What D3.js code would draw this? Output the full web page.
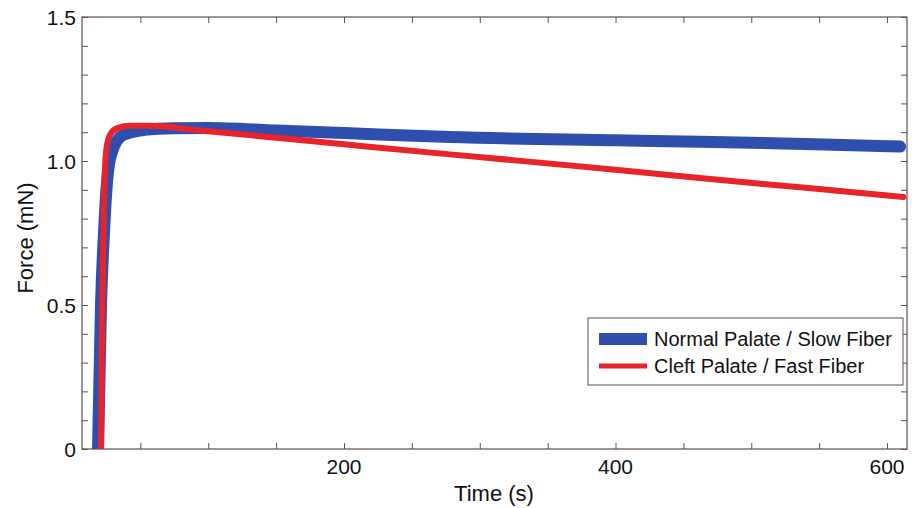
<!DOCTYPE html>
<html>
<head>
<meta charset="utf-8">
<script src="https://cdn.jsdelivr.net/npm/d3@7"></script>
<style>
  body { margin: 0; background: #fff; }
  svg text { font-family: "Liberation Sans", Arial, sans-serif; fill: #111; }
</style>
</head>
<body>
<div id="chart"></div>
<script>
'use strict';

// normal palate / slow fiber
var blueTime  = [18.8, 21, 23.2, 25, 26.9, 29, 32, 35, 42, 53, 75, 100, 150, 200, 278, 400, 462, 540, 609.6];
var blueForce = [0, 0.5, 0.75, 0.9, 0.99, 1.03, 1.065, 1.083, 1.098, 1.108, 1.114, 1.115, 1.106, 1.097, 1.083, 1.072, 1.067, 1.059, 1.050];

// cleft palate / fast fiber
var redTime  = [21, 22, 23.9, 25.4, 28.4, 33.5, 42, 57, 94, 200, 278, 400, 462, 540, 612];
var redForce = [0, 0.5, 0.97, 1.056, 1.097, 1.115, 1.122, 1.122, 1.106, 1.058, 1.023, 0.97, 0.941, 0.907, 0.875];

var xTicks = [50, 100, 150, 200, 250, 300, 350, 400, 450, 500, 550, 600];
var xLabels = [200, 400, 600];
var yTicks = [0, 0.1, 0.2, 0.3, 0.4, 0.5, 0.6, 0.7, 0.8, 0.9, 1.0, 1.1, 1.2, 1.3, 1.4, 1.5];
var yLabels = ['0', '0.5', '1.0', '1.5'];

var legendNames = ['Normal Palate / Slow Fiber', 'Cleft Palate / Fast Fiber'];
var colors = ['#2f4fae', '#e8242a'];

var W = 912, H = 508;
var pLeft = 82, pRight = 907, pTop = 17, pBottom = 449;

var x = d3.scaleLinear().domain([7, 614.7]).range([pLeft, pRight]);
var y = d3.scaleLinear().domain([0, 1.5]).range([pBottom, pTop]);

var svg = d3.select('#chart').append('svg')
    .attr('width', W)
    .attr('height', H);

svg.append('defs').append('clipPath').attr('id', 'plot')
    .append('rect')
    .attr('x', pLeft).attr('y', pTop)
    .attr('width', pRight - pLeft).attr('height', pBottom - pTop);

var frameColor = '#5e4f4c';

// ticks, inward on all four sides
function tickAxis(axis, tx, ty) {
    var g = svg.append('g')
        .attr('transform', 'translate(' + tx + ',' + ty + ')')
        .call(axis);
    g.select('.domain').remove();
    g.selectAll('line').attr('stroke', frameColor).attr('stroke-width', 1);
    g.selectAll('text').remove();
    return g;
}

tickAxis(d3.axisBottom(x).tickValues(xTicks).tickSize(-6), 0, pBottom);
tickAxis(d3.axisTop(x).tickValues(xTicks).tickSize(-6), 0, pTop);
tickAxis(d3.axisLeft(y).tickValues(yTicks).tickSize(-6), pLeft, 0);
tickAxis(d3.axisRight(y).tickValues(yTicks).tickSize(-6), pRight, 0);

svg.append('rect')
    .attr('x', pLeft).attr('y', pTop)
    .attr('width', pRight - pLeft).attr('height', pBottom - pTop)
    .attr('fill', 'none')
    .attr('stroke', frameColor)
    .attr('stroke-width', 1.2);

// tick labels
svg.append('g').selectAll('text')
    .data(xLabels)
    .enter()
    .append('text')
    .attr('x', function (d) { return x(d); })
    .attr('y', 474)
    .attr('text-anchor', 'middle')
    .style('font-size', '21px')
    .text(function (d) { return d; });

svg.append('g').selectAll('text')
    .data(yLabels)
    .enter()
    .append('text')
    .attr('x', 76)
    .attr('y', function (d) { return y(+d) + 8; })
    .attr('text-anchor', 'end')
    .style('font-size', '21px')
    .text(function (d) { return d; });

// axis titles
svg.append('text')
    .attr('x', 494)
    .attr('y', 501)
    .attr('text-anchor', 'middle')
    .style('font-size', '22px')
    .text('Time (s)');

svg.append('text')
    .attr('transform', 'translate(33,238) rotate(-90)')
    .attr('text-anchor', 'middle')
    .style('font-size', '22px')
    .text('Force (mN)');

// curves
var line = d3.line()
    .x(function (d) { return x(d[0]); })
    .y(function (d) { return y(d[1]); })
    .curve(d3.curveMonotoneX);

var plot = svg.append('g').attr('clip-path', 'url(#plot)');

plot.append('path')
    .datum(d3.zip(blueTime, blueForce))
    .attr('d', line)
    .attr('fill', 'none')
    .attr('stroke', colors[0])
    .attr('stroke-width', 12)
    .attr('stroke-linecap', 'round')
    .attr('stroke-linejoin', 'round');

plot.append('path')
    .datum(d3.zip(redTime, redForce))
    .attr('d', line)
    .attr('fill', 'none')
    .attr('stroke', colors[1])
    .attr('stroke-width', 6)
    .attr('stroke-linecap', 'round')
    .attr('stroke-linejoin', 'round');

// legend
var lg = svg.append('g');
lg.append('rect')
    .attr('x', 588).attr('y', 318)
    .attr('width', 315).attr('height', 67)
    .attr('fill', '#fff')
    .attr('stroke', frameColor)
    .attr('stroke-width', 1);

var widths = [12, 5];
legendNames.forEach(function (name, i) {
    var ly = 339 + i * 27;
    lg.append('line')
        .attr('x1', 599).attr('x2', 647)
        .attr('y1', ly).attr('y2', ly)
        .attr('stroke', colors[i])
        .attr('stroke-width', widths[i]);
    lg.append('text')
        .attr('x', 654)
        .attr('y', ly + 7)
        .style('font-size', '20px')
        .text(name);
});
</script>
</body>
</html>
